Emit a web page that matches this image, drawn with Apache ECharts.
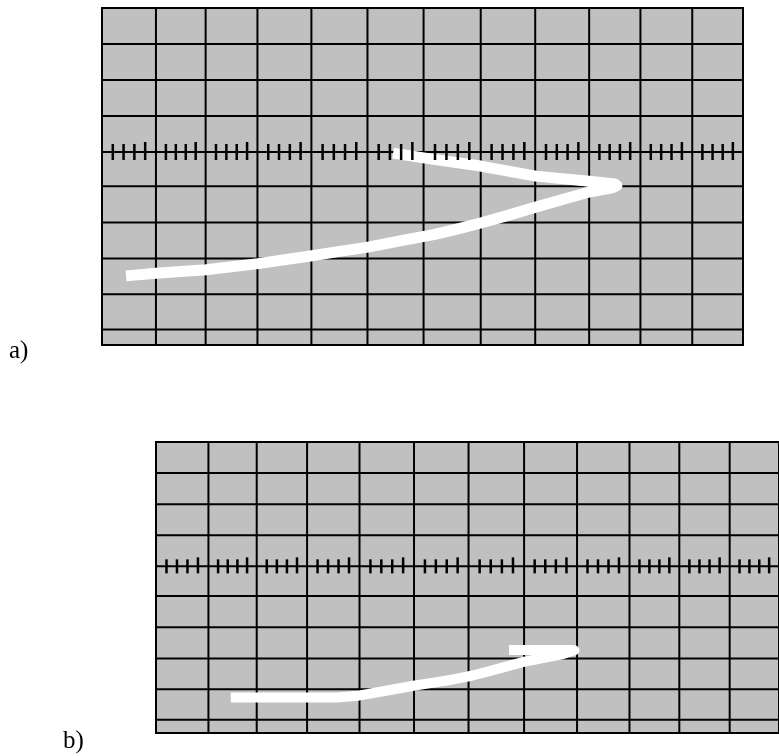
<!DOCTYPE html>
<html>
<head>
<meta charset="utf-8">
<script src="https://cdn.jsdelivr.net/npm/echarts@6/dist/echarts.min.js"></script>
<style>
html,body{margin:0;padding:0;background:#fff;}
#chart{width:779px;height:756px;}
</style>
</head>
<body>
<div id="chart"></div>
<script>
// Screen grid (in divisions)
const colBounds = [0, 1.01, 1.94, 2.91, 3.92, 4.97, 6.02, 7.09, 8.11, 9.12, 10.08, 11.05, 12];
const rowLines = [4, 3, 2, 1, 0, -0.95, -1.96, -2.96, -3.95, -4.93, -5.36];
const yMin = -5.36, yMax = 4;

// Trace a)
const aTraceX = [5.45, 6.05, 7.09, 8.12, 9.12, 9.42, 9.60, 9.64, 9.56, 9.42, 9.12, 8.62, 8.12, 7.60, 7.09, 6.70, 6.23, 5.58, 4.98, 4.45, 3.93, 2.92, 1.95, 1.01, 0.45];
const aTraceY = [-0.03, -0.17, -0.39, -0.67, -0.81, -0.86, -0.89, -0.93, -0.99, -1.03, -1.11, -1.32, -1.53, -1.76, -1.97, -2.12, -2.29, -2.47, -2.64, -2.76, -2.88, -3.10, -3.27, -3.37, -3.44];

// Trace b)
const bTraceX = [6.80, 7.46, 7.95, 8.06, 8.06, 7.80, 7.45, 7.08, 6.51, 6.10, 5.75, 5.35, 4.96, 4.43, 3.90, 3.48, 2.73, 1.44];
const bTraceY = [-2.69, -2.69, -2.69, -2.70, -2.76, -2.84, -2.95, -3.07, -3.33, -3.51, -3.63, -3.74, -3.84, -4.00, -4.16, -4.22, -4.22, -4.22];

const panelLabels = ['a)', 'b)'];

// minor ticks on the centre line: 4 per cell
const tickPos = [];
for (let i = 0; i < colBounds.length - 1; i++) {
  const w = colBounds[i + 1] - colBounds[i];
  for (let k = 1; k <= 4; k++) tickPos.push([colBounds[i] + w * k / 5, k]);
}

function vLineSeries(gi) {
  return {
    type: 'custom', xAxisIndex: gi, yAxisIndex: gi, clip: false, z: 2, silent: true,
    data: colBounds.map(v => [v]),
    renderItem: (params, api) => {
      const v = api.value(0);
      const p1 = api.coord([v, yMax]), p2 = api.coord([v, yMin]);
      return { type: 'line', shape: { x1: p1[0], y1: p1[1], x2: p2[0], y2: p2[1] },
        style: { stroke: '#000', lineWidth: 2 } };
    }
  };
}
function hLineSeries(gi) {
  return {
    type: 'custom', xAxisIndex: gi, yAxisIndex: gi, clip: false, z: 2, silent: true,
    data: rowLines.map(v => [v]),
    renderItem: (params, api) => {
      const v = api.value(0);
      const p1 = api.coord([0, v]), p2 = api.coord([12, v]);
      return { type: 'line', shape: { x1: p1[0], y1: p1[1], x2: p2[0], y2: p2[1] },
        style: { stroke: '#000', lineWidth: 2 } };
    }
  };
}
function tickSeries(gi, half) {
  return {
    type: 'custom', xAxisIndex: gi, yAxisIndex: gi, clip: false, z: 5, silent: true,
    data: tickPos,
    renderItem: (params, api) => {
      const p = api.coord([api.value(0), 0]);
      const up = api.value(1) === 4 ? half + 2 : half;
      return { type: 'line', shape: { x1: p[0], y1: p[1] - up, x2: p[0], y2: p[1] + half },
        style: { stroke: '#000', lineWidth: 2.5 } };
    }
  };
}
function traceSeries(gi, xs, ys, w) {
  return {
    type: 'line', xAxisIndex: gi, yAxisIndex: gi, z: 4, silent: true,
    data: xs.map((x, i) => [x, ys[i]]),
    showSymbol: false, smooth: false, clip: false,
    lineStyle: { color: '#ffffff', width: w, cap: 'butt', join: 'round' }
  };
}

const axisX = gi => ({ type: 'value', gridIndex: gi, min: 0, max: 12, show: false });
const axisY = gi => ({ type: 'value', gridIndex: gi, min: yMin, max: yMax, show: false });

const chart = echarts.init(document.getElementById('chart'), null, { renderer: 'canvas' });
chart.setOption({
  animation: false,
  backgroundColor: '#ffffff',
  grid: [
    { left: 102, top: 8, width: 641, height: 337, show: true, backgroundColor: '#c0c0c0', borderColor: '#000', borderWidth: 2 },
    { left: 156, top: 442, width: 634, height: 291, show: true, backgroundColor: '#c0c0c0', borderColor: '#000', borderWidth: 2 }
  ],
  xAxis: [axisX(0), axisX(1)],
  yAxis: [axisY(0), axisY(1)],
  graphic: [
    { type: 'text', left: 9, top: 339, style: { text: panelLabels[0], font: '25px "Liberation Serif", serif', fill: '#000' } },
    { type: 'text', left: 63, top: 729, style: { text: panelLabels[1], font: '25px "Liberation Serif", serif', fill: '#000' } }
  ],
  series: [
    vLineSeries(0), hLineSeries(0), traceSeries(0, aTraceX, aTraceY, 11), tickSeries(0, 8),
    vLineSeries(1), hLineSeries(1), traceSeries(1, bTraceX, bTraceY, 10), tickSeries(1, 7)
  ]
});
</script>
</body>
</html>
